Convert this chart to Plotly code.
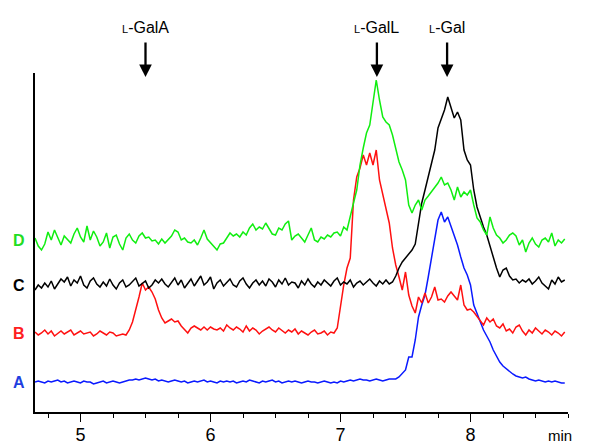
import numpy as np
import plotly.graph_objects as go

# retention time grid (min), detector sampling
t_start, t_step, n_pts = 4.65, 0.025, 164
time_min = [round(t_start + i * t_step, 3) for i in range(n_pts)]

# detector signals relative to each trace baseline (arbitrary units)
sig_A = [0, 1, 0, -1, 1, 0, 1, 2, 0, 1, -1, 0, 1, 0, -1, 1, 0, 0, -2, -1,
         0, 1, -1, 0, 1, 0, -1, 0, 1, 2,
         2, 3, 2, 3, 4, 3, 2, 3, 1, 2, 1, 0, 1, 2, 1, 0, 1, -1, 0, 1,
         0, 1, 2, 0, 1, 0, -1, 1, 0, 1,
         0, 1, -1, 0, 1, 0, 2, 1, 0, -1, 1, 0, 1, 2, 0, 1, -1, 0, 1, 0,
         1, 0, -1, 0, 1, 0, 0, -1, 0, 1,
         0, -1, 0, -1, 1, 0, 1, 2, 1, 2, 3, 2, 2, 1, 2, 3, 2, 1, 2, 3, 3,
         3, 5, 8, 12, 25, 25, 42, 65, 77, 87, 105, 125, 145, 162, 170,
         160, 165, 156, 147, 137, 125, 114, 107, 97, 77, 69, 60, 52, 46, 40,
         32, 26, 20, 16, 13, 10, 8, 6, 5, 4, 5, 3, 2, 1, 2, 1, 0, 1, 0, 1,
         0, -1, -1]

sig_B = [1, -2, 0, 3, -1, 2, -3, 0, 2, -1, 1, 3, -2, 0, 2, -1, 0, 1, -3, -1,
         2, 0, -2, 1, 0, -3, -2, -1,
         -2, 3, 11, 23, 36, 50, 43, 46, 41, 34, 23, 15, 10, 12, 14, 11, 12, 7, 3, 0,
         5, 7, 5, 3, 6, 3,
         6, 4, 3, 5, 2, 8, 5, 3, 6, 4, 1, 7, 2, 5, 3, -1, 2, 4, 6, 3,
         1, 5, 2, 0, 3, 1, 4, -1, 2, 0, -2, 1, 3, -1, 0, 2, -2, 1, 0,
         5, 28, 48, 65, 75, 133, 156, 165, 178, 168,
         180, 168, 183, 153, 138, 123, 110, 85, 68, 56,
         43, 61, 38, 27, 20, 36, 30, 40, 30, 36,
         46, 33, 34, 31, 37, 41, 37, 33, 48, 28,
         23, 24, 21, 17, 13, 8, 15, 11, 14, 7,
         5, 9, 2, 4, 0, 6, 8, 2, -2, 3,
         0, 5, 2, -1, 3, 1, -2, 2, 0, -3, 1]

sig_C = [-5, 0, -3, 2, -2, 4, -4, 1, 6, 3, 8, -1, 5, 2, 9, 0, -3, 4, 7, 1,
         -2, 3, -1, 6, 0, -4, 2, 5, -2, 0, 3, 7, -1, 2, 4, -3, 0, 5, 2, 6,
         1, -2, 3, 7, 0, 5, -3, 2, 6, -1, 4, 9, 0, 3, 8, -4, 2, 5, -1, 3,
         6, 0, -2, 4, 7, 1, -3, 2, 5, 0, 4, -1, 6, 3, -2, 5, 1, 7, 0, 3,
         2, -3, 4, 0, 6, 1, -2, 3, 0, 5, 2, -1, 4, 7, 0, 3, 1, 5, -2, 2,
         4, 0, 3, 6, 2, -1, 4, 1,
         5, 1, 3, 9, 17, 23, 27, 31, 35, 41,
         60, 82, 95, 108, 123, 135, 157, 167, 175, 188,
         178, 167, 173, 165, 135, 125, 120, 95, 78, 67,
         58, 50, 40, 28, 17, 8, 15, 17, 9, 5,
         6, 2, 5, 3, 6, 1, 4, 8, 2, -1,
         -4, 5, 1, 8, 3, 5]

sig_D = [2, -6, -10, -4, 8, 0, 10, 2, -5, 4, 0, -3, 6, 12, 3, -2, 14, 0, 9, 3,
         -6, -2, 7, -8, 3, 5, -4, -10, 2, 6, 0, -3, 4, 7, 2, 3, -1, 0, -4, 1,
         -3, 0,
         4, 10, 8, 0, 2, -2, -3, 0, -5, 2,
         10, 1, -3, -6, -10, -4, -3, 2, 7, 4,
         6, 3, 8, 5, 12, 16, 10, 13, 11, 17,
         12, 6, 5, 12, 10, 16, 19, 0, 4, 6,
         2, -2, 5, 12, 0, -2, 3, 1, 5, 3, 7,
         8, 4, 13, 10, 25, 37, 50, 75, 92, 107,
         115, 140, 160, 140, 123, 118, 115, 105, 90, 78,
         70, 60, 35, 27, 35, 40, 30, 40, 44, 48,
         52, 57, 63, 55, 57, 50, 40, 53, 43, 48,
         45, 50, 35, 22, 18, 10, 5, 23, 12, 5,
         2, -3, 0, 5, 7, 4, -5, 0, -12, -3,
         2, -4, -7, 0, 2, -2, 7, -6, 0, -3, 1]

for s in (sig_A, sig_B, sig_C, sig_D):
    assert len(s) == n_pts, len(s)

trace_names = ["A", "B", "C", "D"]
signals = {"A": sig_A, "B": sig_B, "C": sig_C, "D": sig_D}

# markers (name, retention time in min)
marker_names = ["GalA", "GalL", "Gal"]
marker_times = [5.5, 7.28, 7.82]

# display: vertical stacking offsets and colours
offsets = {"A": 30, "B": 79, "C": 127, "D": 172}
line_colors = {"A": "#0a1aff", "B": "#ff1010", "C": "#000000", "D": "#10ee10"}
label_colors = {"A": "#1f3fe0", "B": "#ff2020", "C": "#000000", "D": "#22dd22"}

x_range = [4.65, 8.75]
y_range = [0, 339]

fig = go.Figure()
for name in trace_names:
    off = offsets[name]
    fig.add_trace(go.Scatter(
        x=time_min, y=[v + off for v in signals[name]], mode="lines",
        line=dict(color=line_colors[name], width=1.5), showlegend=False,
        hoverinfo="skip"))

annotations = []
for name in trace_names:
    annotations.append(dict(
        x=-0.03, xref="paper", y=offsets[name], yref="y",
        text=f"<b>{name}</b>", showarrow=False,
        font=dict(family="Liberation Sans, Arial", size=16, color=label_colors[name]),
        xanchor="center", yanchor="middle"))

for nm, tm in zip(marker_names, marker_times):
    annotations.append(dict(
        x=tm, xref="x", y=0.988, yref="paper", text="", showarrow=True,
        arrowhead=2, arrowsize=1.1, arrowwidth=2.3, arrowcolor="#000000",
        ax=0, ay=-36))
    annotations.append(dict(
        x=tm, xref="x", y=1.133, yref="paper",
        text=f"<span style='font-size:11px'>L</span>-{nm}", showarrow=False,
        font=dict(family="Liberation Sans, Arial", size=16, color="#000000"),
        xanchor="center", yanchor="middle"))

annotations.append(dict(
    x=0.985, xref="paper", y=-0.068, yref="paper", text="min", showarrow=False,
    font=dict(family="Liberation Sans, Arial", size=15, color="#000000"),
    xanchor="center", yanchor="middle"))

fig.update_layout(
    width=600, height=447,
    margin=dict(l=35, r=32, t=73, b=35),
    paper_bgcolor="white", plot_bgcolor="white",
    annotations=annotations,
    xaxis=dict(
        range=x_range, showgrid=False, zeroline=False, automargin=False,
        showline=True, linecolor="#000000", linewidth=1.5,
        ticks="outside", ticklen=8, tickwidth=1.2, tickcolor="#000000",
        ticklabelstandoff=-2,
        tickmode="array", tickvals=[5, 6, 7, 8], ticktext=["5", "6", "7", "8"],
        tickfont=dict(family="Liberation Sans, Arial", size=18, color="#000000"),
        minor=dict(ticks="outside", ticklen=4, tickwidth=1.2, tickcolor="#000000",
                   tickmode="array",
                   tickvals=[4.75, 5.25, 5.5, 5.75, 6.25, 6.5, 6.75, 7.25,
                             7.5, 7.75, 8.25, 8.5, 8.75]),
        fixedrange=True),
    yaxis=dict(
        range=y_range, showgrid=False, zeroline=False, showticklabels=False,
        automargin=False,
        showline=True, linecolor="#000000", linewidth=1.5, ticks="",
        fixedrange=True),
)

fig.write_html(
    "out.html",
    config={"displayModeBar": False, "responsive": False},
    post_script="document.body.style.margin='0';document.body.style.overflow='hidden';",
)
